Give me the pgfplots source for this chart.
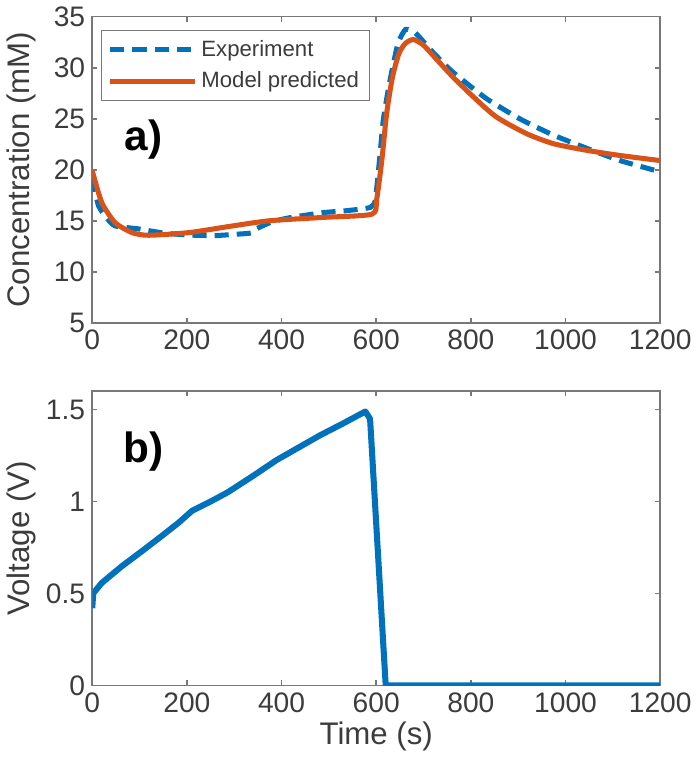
\documentclass[border=0pt]{standalone}
\usepackage{pgfplots}
\pgfplotsset{compat=1.18}
\usepackage{fontspec}
\setmainfont{Liberation Sans}

\definecolor{mblue}{RGB}{0,114,189}
\definecolor{morange}{RGB}{217,83,25}
\definecolor{axgray}{RGB}{120,120,120}
\definecolor{txtgray}{RGB}{60,60,60}

\pgfplotsset{
  panel/.style={
    scale only axis,
    width=282pt,
    xmin=0, xmax=1200,
    xtick={0,200,...,1200},
    tick align=inside,
    major tick length=2.5pt,
    axis line style={axgray, line width=0.8pt},
    every tick/.style={axgray, line width=0.8pt},
    tick label style={font=\fontsize{14}{16}\selectfont, text=txtgray},
    label style={font=\fontsize{15.5}{18}\selectfont, text=txtgray},
    /pgf/number format/assume math mode=true,
    /pgf/number format/1000 sep={},
    scaled ticks=false,
    ylabel style={at={(axis description cs:-0.125,0.5)}, anchor=center},
    clip=true,
  }
}

\begin{document}
\begin{tikzpicture}
\begin{axis}[panel,
  name=top,
  height=152pt,
  ymin=5, ymax=35,
  ytick={5,10,...,35},
  ylabel={Concentration (mM)},
  legend style={at={(0.016,0.957)}, anchor=north west, draw=axgray,
    font=\fontsize{11}{13}\selectfont, text=txtgray, cells={anchor=west},
    inner xsep=3pt, inner ysep=3pt, row sep=2pt},
  legend image code/.code={\draw[#1] (0pt,0pt) -- (42pt,0pt);},
]
\addplot[mblue, line width=2.5pt, dash pattern=on 7pt off 4pt, smooth, tension=0.3] coordinates {
(0,19.2) (13,16.5) (30,15.3) (48,14.5) (98,14.2) (150,13.8) (204,13.6) (260,13.55) (311,13.7)
(335,13.8) (346,14.2) (380,14.9) (417,15.3) (488,15.8) (540,16.0) (587,16.3)
(598,17.0) (607,21.0) (615,24.9) (628,28.5) (646,32.4) (662,33.75) (683,33.4)
(720,31.5) (761,29.6) (832,27.0) (903,25.0) (974,23.4) (1045,22.1) (1115,20.9) (1200,19.8)
};
\addlegendentry{Experiment}
\addplot[morange, line width=2.5pt, smooth, tension=0.4] coordinates {
(0,19.9) (20,16.8) (48,14.83) (84,13.84) (119,13.58) (204,13.84) (289,14.44) (374,15.0)
(488,15.33) (591,15.65) (601,17.1) (612,21.0) (622,25.5) (634,29.0) (648,31.4) (662,32.4)
(679,32.76) (700,32.2) (725,30.95) (761,29.14) (804,27.2) (853,25.2) (917,23.55)
(974,22.56) (1045,21.9) (1115,21.4) (1200,20.9)
};
\addlegendentry{Model predicted}
\node[font=\fontsize{21}{24}\selectfont\bfseries] at (axis cs:108,23.0) {a)};
\end{axis}

\begin{axis}[panel,
  at={(top.south west)}, anchor=north west, yshift=-34pt,
  height=146pt,
  ymin=0, ymax=1.6,
  ytick={0,0.5,1,1.5},
  yticklabels={0,0.5,1,1.5},
  ylabel={Voltage (V)},
  xlabel={Time (s)},
  xlabel style={yshift=2pt},
]
\addplot[mblue, line width=3pt, line join=round] coordinates {
(0,0.42) (2,0.50) (20,0.557) (62,0.647) (105,0.73) (147,0.813) (183,0.886) (211,0.95)
(247,0.996) (286,1.05) (340,1.14) (389,1.225) (440,1.30) (481,1.36) (530,1.425) (577,1.49)
(587,1.45) (620,0) (1200,0)
};
\node[font=\fontsize{21}{24}\selectfont\bfseries] at (axis cs:108,1.27) {b)};
\end{axis}
\end{tikzpicture}
\end{document}
